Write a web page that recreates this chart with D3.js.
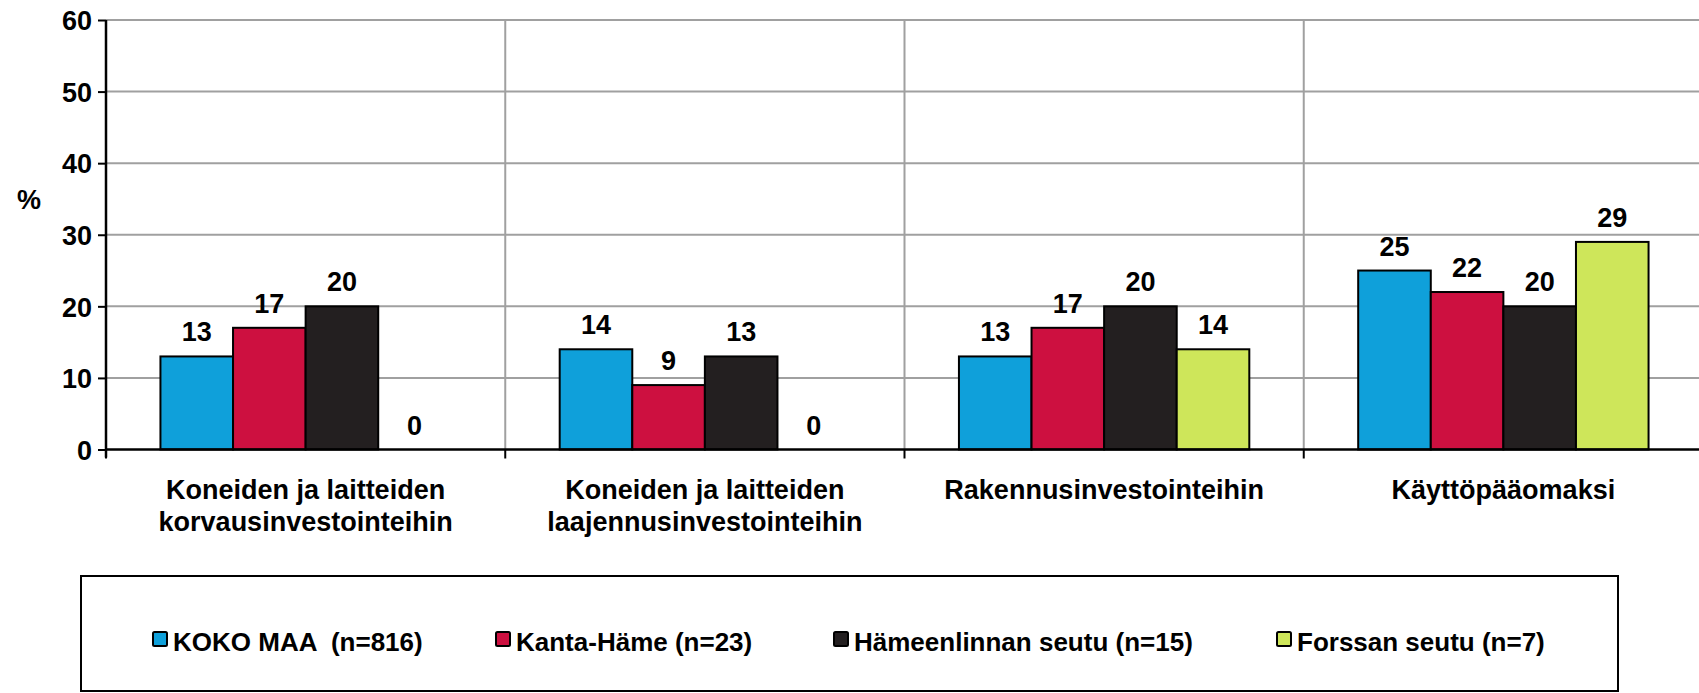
<!DOCTYPE html>
<html>
<head>
<meta charset="utf-8">
<script src="https://cdn.jsdelivr.net/npm/d3@7"></script>
<style>
    body { margin: 0; background: #fff; }
    svg { display: block; font-family: "Liberation Sans", Arial, sans-serif; font-weight: bold; }
</style>
</head>
<body>
<div id="chart"></div>
<script>
// categories (two-line labels) and series
var categories = ["Koneiden ja laitteiden|korvausinvestointeihin",
    "Koneiden ja laitteiden|laajennusinvestointeihin",
    "Rakennusinvestointeihin",
    "Käyttöpääomaksi"];
var series = ["KOKO MAA  (n=816)", "Kanta-Häme (n=23)", "Hämeenlinnan seutu (n=15)", "Forssan seutu (n=7)"];
var kokoMaa = [13, 14, 13, 25];
var kantaHame = [17, 9, 17, 22];
var hameenlinna = [20, 13, 20, 20];
var forssa = [0, 0, 14, 29];
var yTicks = [0, 10, 20, 30, 40, 50, 60];
var colors = ["#0fa0da", "#cd1040", "#231f20", "#cee65a"];

var values = [kokoMaa, kantaHame, hameenlinna, forssa];

var width = 1699, height = 693;
var plotLeft = 106, plotRight = 1703, plotTop = 20, plotBottom = 449.5;

var svg = d3.select("#chart")
    .append("svg")
    .attr("width", width)
    .attr("height", height);

var x0 = d3.scaleBand()
    .domain(categories)
    .range([plotLeft, plotRight]);

var x1 = d3.scaleBand()
    .domain(series)
    .range([0, x0.bandwidth()])
    .paddingOuter(0.75);

var y = d3.scaleLinear()
    .domain([0, 60])
    .range([plotBottom, plotTop]);

// horizontal gridlines
svg.append("g")
    .selectAll("line")
    .data(yTicks.slice(1))
    .enter()
    .append("line")
    .attr("x1", plotLeft)
    .attr("x2", width)
    .attr("y1", d => y(d))
    .attr("y2", d => y(d))
    .style("stroke", "#a0a0a0")
    .style("stroke-width", 2);

// vertical gridlines between categories
svg.append("g")
    .selectAll("line")
    .data(categories.slice(1))
    .enter()
    .append("line")
    .attr("x1", d => x0(d))
    .attr("x2", d => x0(d))
    .attr("y1", plotTop)
    .attr("y2", plotBottom)
    .style("stroke", "#a0a0a0")
    .style("stroke-width", 2);

// y axis
var yAxis = svg.append("g")
    .attr("transform", "translate(" + plotLeft + ",0)")
    .call(d3.axisLeft(y).tickValues(yTicks).tickSize(8).tickPadding(6));
yAxis.select(".domain").attr("d", "M0," + plotTop + "V" + (plotBottom + 8)).style("stroke-width", 2.5);
yAxis.selectAll(".tick line").style("stroke-width", 2);
yAxis.selectAll(".tick text")
    .attr("dy", "0.36em")
    .style("font-size", "27px")
    .style("font-family", "Liberation Sans, Arial, sans-serif")
    .style("font-weight", "bold")
    .attr("fill", "#000");

svg.append("text")
    .attr("x", 29)
    .attr("y", 209)
    .attr("text-anchor", "middle")
    .style("font-size", "27px")
    .text("%");

// bars
var groups = svg.append("g")
    .selectAll("g")
    .data(categories)
    .enter()
    .append("g")
    .attr("transform", d => "translate(" + x0(d) + ",0)");

groups.selectAll("rect")
    .data((d, i) => series.map((s, j) => ({ s: s, v: values[j][i], c: colors[j] })))
    .enter()
    .append("rect")
    .attr("x", d => x1(d.s))
    .attr("y", d => y(d.v))
    .attr("width", x1.bandwidth())
    .attr("height", d => y(0) - y(d.v))
    .style("fill", d => d.c)
    .style("stroke", "#000")
    .style("stroke-width", 2)
    .style("display", d => d.v > 0 ? null : "none");

groups.selectAll("text")
    .data((d, i) => series.map((s, j) => ({ s: s, v: values[j][i] })))
    .enter()
    .append("text")
    .attr("x", d => x1(d.s) + x1.bandwidth() / 2)
    .attr("y", d => y(d.v) - 15)
    .attr("text-anchor", "middle")
    .style("font-size", "27px")
    .text(d => d.v);

// x axis
svg.append("line")
    .attr("x1", plotLeft)
    .attr("x2", width)
    .attr("y1", plotBottom)
    .attr("y2", plotBottom)
    .style("stroke", "#000")
    .style("stroke-width", 2.5);

svg.append("g")
    .selectAll("line")
    .data(categories)
    .enter()
    .append("line")
    .attr("x1", d => x0(d))
    .attr("x2", d => x0(d))
    .attr("y1", plotBottom)
    .attr("y2", plotBottom + 9)
    .style("stroke", "#000")
    .style("stroke-width", 2);

// category labels
var catLabels = svg.append("g")
    .selectAll("text")
    .data(categories)
    .enter()
    .append("text")
    .attr("x", d => x0(d) + x0.bandwidth() / 2)
    .attr("y", 499)
    .attr("text-anchor", "middle")
    .style("font-size", "27px");

catLabels.selectAll("tspan")
    .data(d => d.split("|"))
    .enter()
    .append("tspan")
    .attr("x", function() { return this.parentNode.getAttribute("x"); })
    .attr("dy", (d, i) => i === 0 ? 0 : 32)
    .text(d => d);

// legend
svg.append("rect")
    .attr("x", 81)
    .attr("y", 576)
    .attr("width", 1537)
    .attr("height", 115)
    .style("fill", "none")
    .style("stroke", "#000")
    .style("stroke-width", 2);

var legendX = [153, 496, 834, 1277];

var legend = svg.append("g")
    .selectAll("g")
    .data(series)
    .enter()
    .append("g")
    .attr("transform", (d, i) => "translate(" + legendX[i] + ",632)");

legend.append("rect")
    .attr("width", 14)
    .attr("height", 14)
    .attr("rx", 1.5)
    .style("fill", (d, i) => colors[i])
    .style("stroke", "#000")
    .style("stroke-width", 2);

legend.append("text")
    .attr("x", 20)
    .attr("y", 19)
    .style("font-size", "26px")
    .style("white-space", "pre")
    .text(d => d);
</script>
</body>
</html>
